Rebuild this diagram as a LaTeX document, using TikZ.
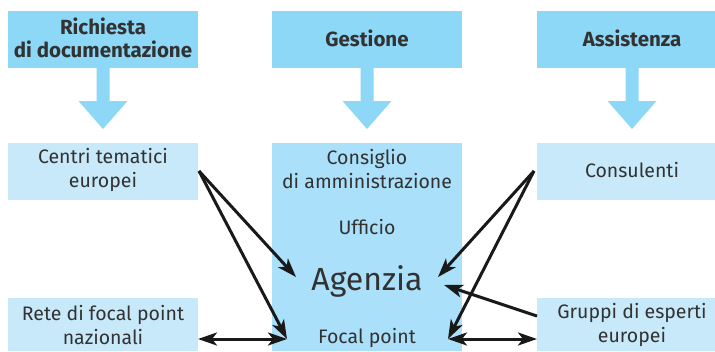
\documentclass[tikz,border=0pt]{standalone}
\usepackage{fontspec}
\setmainfont{Fira Sans}
\usetikzlibrary{arrows.meta}
\definecolor{headblue}{RGB}{141,215,247}
\definecolor{midblue}{RGB}{170,224,250}
\definecolor{lightblue}{RGB}{199,233,249}
\definecolor{txt}{RGB}{50,50,50}
\tikzset{
  box/.style={draw=none,inner sep=0pt,anchor=north west},
  hdr/.style={box,fill=headblue},
  lbox/.style={box,fill=lightblue},
  mbox/.style={box,fill=midblue},
  htext/.style={text=txt,font=\bfseries\fontsize{20.5}{23}\selectfont,align=center,inner sep=0pt},
  btext/.style={text=txt,font=\fontsize{19.5}{24}\selectfont,align=center,inner sep=0pt},
  tip/.tip={Stealth[length=19pt,width=13pt,inset=5pt]},
  conn/.style={draw=black!90,line width=3pt,-tip},
  dconn/.style={draw=black!90,line width=3pt,tip-tip},
  bigarrow/.style={fill=headblue,draw=none}
}
\begin{document}
\begin{tikzpicture}[x=1pt,y=-1pt]
\useasboundingbox (0,0) rectangle (715,351);
% header boxes
\node[hdr,minimum width=190pt,minimum height=57pt] (h1) at (8,11) {};
\node[hdr,minimum width=190pt,minimum height=57pt] (h2) at (272,11) {};
\node[hdr,minimum width=178pt,minimum height=57pt] (h3) at (537,11) {};
\node[htext] (t1) at (103,38) {Richiesta\\di documentazione};
\node[htext] (t2) at (367,38) {Gestione};
\node[htext] (t3) at (632,38) {Assistenza};
% big down arrows
\foreach \cx/\nm in {103/a1,367/a2,632/a3}{
  \fill[bigarrow] (\cx-6.5,68) -- (\cx+6.5,68) -- (\cx+6.5,101) -- (\cx+24.5,101) -- (\cx,129) -- (\cx-24.5,101) -- (\cx-6.5,101) -- cycle;
}
% second row
\node[lbox,minimum width=190pt,minimum height=57pt] (centri) at (8,143) {};
\node[mbox,minimum width=190pt,minimum height=208pt] (agbox) at (272,143) {};
\node[lbox,minimum width=178pt,minimum height=57pt] (cons) at (537,143) {};
\node[lbox,minimum width=190pt,minimum height=53pt] (rete) at (8,298) {};
\node[lbox,minimum width=178pt,minimum height=53pt] (grup) at (537,298) {};
% texts
\node[btext] (tc) at (103,170) {Centri tematici\\europei};
\node[btext] (tcons) at (367,169) {Consiglio\\di amministrazione};
\node[btext] (tuff) at (367,227) {Ufficio};
\node[text=txt,inner sep=0pt,font=\fontsize{32}{36}\selectfont] (tag) at (367,281) {Agenzia};
\node[btext] (tfp) at (367,338) {Focal point};
\node[btext] (tcon) at (632,170) {Consulenti};
\node[btext] (tr) at (103,325) {Rete di focal point\\nazionali};
\node[btext] (tg) at (632,325) {Gruppi di esperti\\europei};
% connector endpoints
\coordinate (agL) at (296,277);
\coordinate (agR) at (438,277);
\coordinate (agG) at (444,285);
\coordinate (fpL) at (287,339);
\coordinate (fpR) at (448,339);
\coordinate (reteE) at (198,339);
\coordinate (grupW) at (537,339);
\coordinate (grupW2) at (537,316);
\coordinate (centriE) at (199,171);
\coordinate (consW) at (534,171);
% connectors
\draw[conn] (centriE) -- (agL);
\draw[conn] (centriE) -- (fpL);
\draw[conn] (consW) -- (agR);
\draw[conn] (consW) -- (fpR);
\draw[conn] (grupW2) -- (agG);
\draw[dconn] (reteE) -- (fpL);
\draw[dconn] (fpR) -- (grupW);
\end{tikzpicture}
\end{document}
